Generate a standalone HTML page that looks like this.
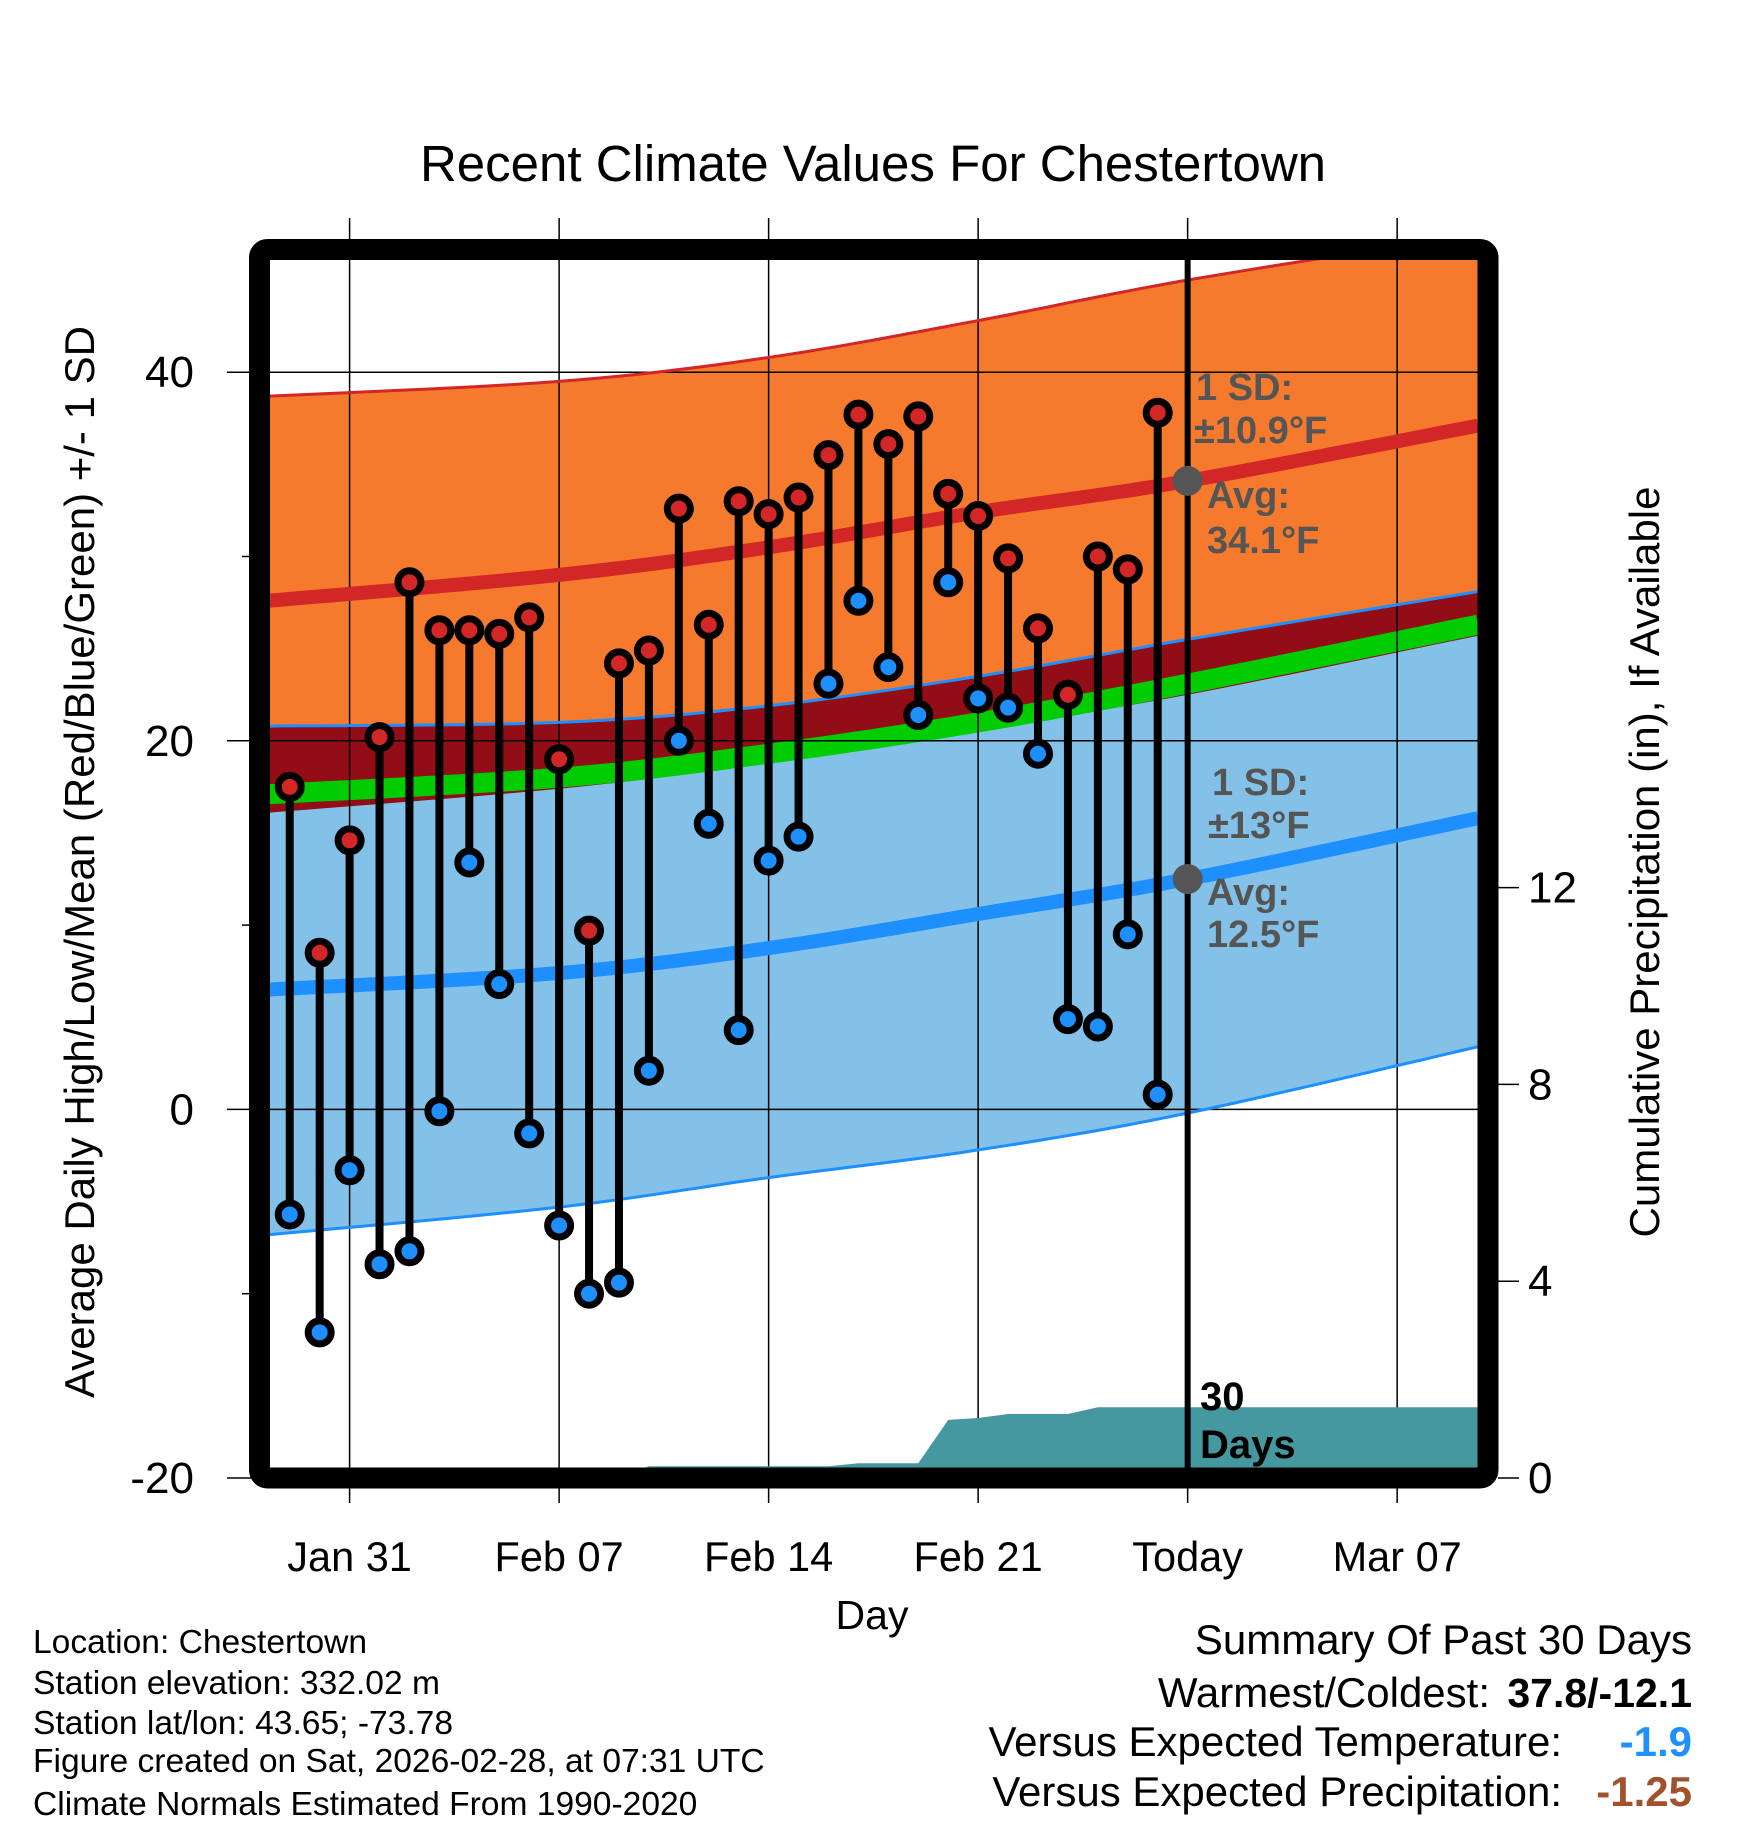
<!DOCTYPE html>
<html><head><meta charset="utf-8"><style>
html,body{margin:0;padding:0;background:#fff;}
svg{display:block;font-family:"Liberation Sans",sans-serif;}
</style></head><body>
<svg id="chart" width="1748" height="1828" viewBox="0 0 1748 1828" xmlns="http://www.w3.org/2000/svg">
<defs><clipPath id="plotclip"><rect x="270" y="260" width="1208" height="1208"/></clipPath></defs>
<text x="873" y="181" font-size="51" text-anchor="middle">Recent Climate Values For Chestertown</text>
<g id="bands" clip-path="url(#plotclip)"></g>
<g id="grid"></g>
<g id="precip" clip-path="url(#plotclip)"></g>
<g id="lines" clip-path="url(#plotclip)"></g>
<g id="marks"></g>
<rect x="259.5" y="249.5" width="1228.5" height="1228.5" rx="8" fill="none" stroke="#000" stroke-width="21"/>
<g id="axes"></g>
<g font-weight="bold" fill="#555" font-size="38">
<text x="1196" y="400">1 SD:</text>
<text x="1194" y="443">±10.9°F</text>
<text x="1207" y="508">Avg:</text>
<text x="1207" y="553">34.1°F</text>
<text x="1212" y="795">1 SD:</text>
<text x="1208" y="838">±13°F</text>
<text x="1207" y="905">Avg:</text>
<text x="1207" y="947">12.5°F</text>
</g>
<g font-weight="bold" fill="#000" font-size="40">
<text x="1200" y="1410">30</text><text x="1200" y="1458">Days</text>
</g>
<text x="872" y="1629" font-size="41" text-anchor="middle">Day</text>
<text transform="translate(94,862) rotate(-90)" font-size="42" text-anchor="middle">Average Daily High/Low/Mean (Red/Blue/Green) +/- 1 SD</text>
<text transform="translate(1659,862) rotate(-90)" font-size="42" text-anchor="middle">Cumulative Precipitation (in), If Available</text>
<g font-size="33.6">
<text x="33" y="1653">Location: Chestertown</text>
<text x="33" y="1694">Station elevation: 332.02 m</text>
<text x="33" y="1734">Station lat/lon: 43.65; -73.78</text>
<text x="33" y="1772">Figure created on Sat, 2026-02-28, at 07:31 UTC</text>
<text x="33" y="1815">Climate Normals Estimated From 1990-2020</text>
</g>
<g font-size="42" text-anchor="end">
<text x="1692" y="1654">Summary Of Past 30 Days</text>
<text x="1490" y="1707">Warmest/Coldest:</text>
<text x="1692" y="1707" font-weight="bold" font-size="41">37.8/-12.1</text>
<text x="1562" y="1756">Versus Expected Temperature:</text>
<text x="1692" y="1756" font-weight="bold" fill="#1e90ff">-1.9</text>
<text x="1562" y="1806">Versus Expected Precipitation:</text>
<text x="1692" y="1806" font-weight="bold" fill="#a0522d">-1.25</text>
</g>
</svg>
<script>
// data
const highs = [17.5,8.5,14.6,20.2,28.6,26.0,26.0,25.8,26.7,19.0,9.7,24.2,24.9,32.6,26.3,33.0,32.3,33.2,35.5,37.7,36.1,37.6,33.4,32.2,29.9,26.1,22.5,30.0,29.3,37.8];
const lows  = [-5.7,-12.1,-3.3,-8.4,-7.7,-0.1,13.4,6.8,-1.3,-6.3,-10.0,-9.4,2.1,20.0,15.5,4.3,13.5,14.8,23.1,27.6,24.0,21.4,28.6,22.3,21.8,19.3,4.9,4.5,9.5,0.8];
const firstDay = -2; // Jan 29 relative to Jan 31
const precip = [0,0,0,0,0,0,0,0,0,0,0,0,0.24,0.24,0.24,0.24,0.24,0.24,0.24,0.3,0.3,0.3,1.18,1.22,1.3,1.3,1.3,1.44,1.44,1.44];
const normDays = [-2.7,7,14,21,28,37.7];
const hiPlus  = [38.7,39.5,40.8,42.8,45.0,47.5];
const hiAvg   = [27.6,29.0,30.5,32.4,34.1,37.1];
const lowPlus = [20.8,21.0,21.9,23.5,25.5,28.1];
const meanAvg = [17.1,18.0,19.3,21.0,23.1,26.3];
const hiMinus = [16.1,17.4,18.8,20.6,22.5,25.7];
const lowAvg  = [6.5,7.4,8.75,10.6,12.5,15.8];
const lowMinus= [-6.8,-5.3,-3.7,-2.2,-0.2,3.4];
const xTickDays = [0,7,14,21,28,35];
const xTickLabels = ["Jan 31","Feb 07","Feb 14","Feb 21","Today","Mar 07"];
const yTicks = [-20,0,20,40];
const yMinor = [-10,10,30];
const y2Ticks = [0,4,8,12];
const todayDay = 28;

const NS="http://www.w3.org/2000/svg";
const X = d => 349.6 + 29.93*d;
const Y = v => 1478 - (v+20)*18.43;
const Y2 = p => 1478 - p*49.2;
function mk(tag, attrs, parent){const e=document.createElementNS(NS,tag);for(const k in attrs)e.setAttribute(k,attrs[k]);parent.appendChild(e);return e;}
function curve(arr){
  const out=[];
  const n=normDays.length;
  for(let i=0;i<n-1;i++){
    const p0=[normDays[Math.max(i-1,0)],arr[Math.max(i-1,0)]],p1=[normDays[i],arr[i]],p2=[normDays[i+1],arr[i+1]],p3=[normDays[Math.min(i+2,n-1)],arr[Math.min(i+2,n-1)]];
    for(let s=0;s<12;s++){
      const t=s/12,t2=t*t,t3=t2*t;
      const f=(a,b,c,d)=>0.5*((2*b)+(-a+c)*t+(2*a-5*b+4*c-d)*t2+(-a+3*b-3*c+d)*t3);
      out.push([f(p0[0],p1[0],p2[0],p3[0]),f(p0[1],p1[1],p2[1],p3[1])]);
    }
  }
  out.push([normDays[n-1],arr[n-1]]);
  return out.map(q=>X(q[0]).toFixed(1)+","+Y(q[1]).toFixed(1));
}
function band(top,bot,fill,name){
  const p = curve(top).concat(curve(bot).reverse()).join(" ");
  const e = mk("polygon",{points:p,fill:fill},document.getElementById("bands"));
  
  
}
band(lowPlus,lowMinus,"#83c1e8","low-sd-band");
band(hiPlus,lowPlus,"#f57a2e","high-sd-band");
band(lowPlus,hiMinus,"#920d15","overlap-band");
const L=document.getElementById("lines");
function line(arr,color,w,name,parent){
  const e=mk("polyline",{points:curve(arr).join(" "),fill:"none",stroke:color,"stroke-width":w},parent||L);
  
  
}
line(meanAvg,"#00cc00",20,"mean-line",document.getElementById("bands"));
line(lowPlus,"#1e8fff",3,"low-plus-edge");
line(lowMinus,"#1e8fff",3,"low-minus-edge");
line(hiPlus,"#d22627",3,"high-plus-edge");
line(hiAvg,"#d22627",14,"high-avg-line");
line(lowAvg,"#1e8fff",14,"low-avg-line");

// grid
const G=document.getElementById("grid");
xTickDays.forEach(d=>{const e=mk("line",{x1:X(d),x2:X(d),y1:218,y2:1503,stroke:"#000","stroke-width":1.5},G);

});
yTicks.forEach(v=>{const e=mk("line",{x1:227,x2:1478,y1:Y(v),y2:Y(v),stroke:"#000","stroke-width":1.5},G);

});

// precip
const P=document.getElementById("precip");
let pp=[];
precip.forEach((p,i)=>{pp.push(X(firstDay+i).toFixed(1)+","+Y2(p).toFixed(1));});
pp.push("1480,"+Y2(precip[precip.length-1]).toFixed(1));
pp.push("1480,1480");pp.push(X(firstDay).toFixed(1)+",1480");
const pa=mk("polygon",{points:pp.join(" "),fill:"#4598a0"},P);



// today line and markers
const M=document.getElementById("marks");
const tl=mk("line",{x1:X(todayDay),x2:X(todayDay),y1:260,y2:1468,stroke:"#000","stroke-width":6},M);


[hiAvg[4],lowAvg[4]].forEach(v=>{const c=mk("circle",{cx:X(todayDay),cy:Y(v),r:15,fill:"#555"},M);

});
highs.forEach((h,i)=>{
  const x=X(firstDay+i);
  const s=mk("line",{x1:x,x2:x,y1:Y(h),y2:Y(lows[i]),stroke:"#000","stroke-width":8},M);
  
  
});
highs.forEach((h,i)=>{
  const x=X(firstDay+i);
  const a=mk("circle",{cx:x,cy:Y(h),r:11.5,fill:"#d22627",stroke:"#000","stroke-width":7},M);
  
  
  const b=mk("circle",{cx:x,cy:Y(lows[i]),r:11.5,fill:"#1e8fff",stroke:"#000","stroke-width":7},M);
  
  
});

// axes
const A=document.getElementById("axes");
yTicks.forEach(v=>{
  const t=mk("text",{x:194,y:Y(v)+15,"font-size":44,"text-anchor":"end"},A);t.textContent=v;
  
  
});
yMinor.forEach(v=>{const e=mk("line",{x1:242,x2:250,y1:Y(v),y2:Y(v),stroke:"#000","stroke-width":1.5},A);

});
y2Ticks.forEach(p=>{
  mk("line",{x1:1498,x2:1519,y1:Y2(p),y2:Y2(p),stroke:"#000","stroke-width":1.5},A);
  const t=mk("text",{x:1528,y:Y2(p)+15,"font-size":44},A);t.textContent=p;
  
  
});
xTickDays.forEach((d,i)=>{
  const t=mk("text",{x:X(d),y:1571,"font-size":41.5,"text-anchor":"middle"},A);t.textContent=xTickLabels[i];
  
  
});
</script>
</body></html>
